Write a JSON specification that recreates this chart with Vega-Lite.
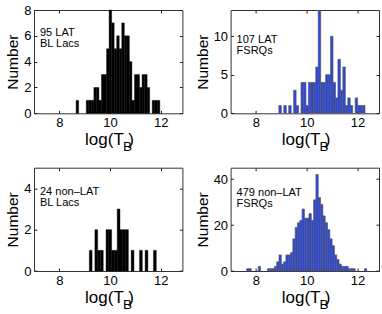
{
  "$schema": "https://vega.github.io/schema/vega-lite/v6.json",
  "background": "white",
  "padding": {"left": 5, "top": 3, "right": 0, "bottom": 0},
  "config": {
    "font": "Liberation Sans",
    "view": {"stroke": "#333", "strokeWidth": 1},
    "axis": {"grid": false, "domain": false, "tickColor": "#222", "tickSize": -3, "labelFontSize": 13, "labelColor": "#000", "labelPadding": 6, "titleFontSize": 16, "titleColor": "#000", "titleFontWeight": "normal", "labelFont": "Liberation Sans", "titleFont": "Liberation Sans"},
    "axisY": {"titleFontSize": 15.5, "titlePadding": 3},
    "title": {"fontSize": 11, "fontWeight": "normal", "font": "Liberation Sans", "color": "#000", "anchor": "start", "frame": "group", "orient": "top", "baseline": "alphabetic", "lineHeight": 11, "dx": 6}
  },
  "data": {"values": [
    {"p":"a","x0":8.66,"x1":8.76,"n":1},
    {"p":"a","x0":9.06,"x1":9.16,"n":1},
    {"p":"a","x0":9.16,"x1":9.26,"n":1},
    {"p":"a","x0":9.26,"x1":9.36,"n":1},
    {"p":"a","x0":9.36,"x1":9.46,"n":2},
    {"p":"a","x0":9.46,"x1":9.56,"n":2},
    {"p":"a","x0":9.56,"x1":9.66,"n":1},
    {"p":"a","x0":9.66,"x1":9.76,"n":3},
    {"p":"a","x0":9.76,"x1":9.86,"n":3},
    {"p":"a","x0":9.86,"x1":9.96,"n":5},
    {"p":"a","x0":9.96,"x1":10.06,"n":8},
    {"p":"a","x0":10.06,"x1":10.16,"n":7},
    {"p":"a","x0":10.16,"x1":10.26,"n":5},
    {"p":"a","x0":10.26,"x1":10.36,"n":6},
    {"p":"a","x0":10.36,"x1":10.46,"n":5},
    {"p":"a","x0":10.46,"x1":10.56,"n":7},
    {"p":"a","x0":10.56,"x1":10.66,"n":6},
    {"p":"a","x0":10.66,"x1":10.76,"n":6},
    {"p":"a","x0":10.76,"x1":10.86,"n":4},
    {"p":"a","x0":10.86,"x1":10.96,"n":1},
    {"p":"a","x0":10.96,"x1":11.06,"n":3},
    {"p":"a","x0":11.06,"x1":11.16,"n":3},
    {"p":"a","x0":11.16,"x1":11.26,"n":2},
    {"p":"a","x0":11.26,"x1":11.36,"n":3},
    {"p":"a","x0":11.36,"x1":11.46,"n":3},
    {"p":"a","x0":11.46,"x1":11.56,"n":2},
    {"p":"a","x0":11.66,"x1":11.76,"n":1},
    {"p":"a","x0":11.76,"x1":11.86,"n":1},
    {"p":"a","x0":11.86,"x1":11.96,"n":1},

    {"p":"b","x0":8.903,"x1":9.0,"n":1},
    {"p":"b","x0":9.097,"x1":9.194,"n":1},
    {"p":"b","x0":9.291,"x1":9.388,"n":1},
    {"p":"b","x0":9.485,"x1":9.582,"n":3},
    {"p":"b","x0":9.582,"x1":9.679,"n":1},
    {"p":"b","x0":9.776,"x1":9.873,"n":4},
    {"p":"b","x0":9.873,"x1":9.97,"n":4},
    {"p":"b","x0":9.97,"x1":10.067,"n":1},
    {"p":"b","x0":10.067,"x1":10.164,"n":4},
    {"p":"b","x0":10.164,"x1":10.261,"n":4},
    {"p":"b","x0":10.261,"x1":10.358,"n":4},
    {"p":"b","x0":10.358,"x1":10.455,"n":6},
    {"p":"b","x0":10.455,"x1":10.552,"n":14},
    {"p":"b","x0":10.552,"x1":10.649,"n":4},
    {"p":"b","x0":10.649,"x1":10.746,"n":4},
    {"p":"b","x0":10.746,"x1":10.843,"n":5},
    {"p":"b","x0":10.843,"x1":10.94,"n":5},
    {"p":"b","x0":10.94,"x1":11.037,"n":10},
    {"p":"b","x0":11.037,"x1":11.134,"n":4},
    {"p":"b","x0":11.134,"x1":11.231,"n":2},
    {"p":"b","x0":11.231,"x1":11.328,"n":7},
    {"p":"b","x0":11.328,"x1":11.425,"n":3},
    {"p":"b","x0":11.425,"x1":11.522,"n":6},
    {"p":"b","x0":11.522,"x1":11.619,"n":1},
    {"p":"b","x0":11.619,"x1":11.716,"n":2},
    {"p":"b","x0":11.716,"x1":11.813,"n":1},
    {"p":"b","x0":11.91,"x1":12.007,"n":2},
    {"p":"b","x0":12.007,"x1":12.104,"n":1},
    {"p":"b","x0":12.104,"x1":12.201,"n":1},
    {"p":"b","x0":12.201,"x1":12.298,"n":1},

    {"p":"c","x0":9.18,"x1":9.29,"n":1},
    {"p":"c","x0":9.40,"x1":9.51,"n":2},
    {"p":"c","x0":9.51,"x1":9.62,"n":1},
    {"p":"c","x0":9.62,"x1":9.73,"n":1},
    {"p":"c","x0":9.84,"x1":9.95,"n":2},
    {"p":"c","x0":9.95,"x1":10.06,"n":2},
    {"p":"c","x0":10.06,"x1":10.17,"n":1},
    {"p":"c","x0":10.17,"x1":10.28,"n":1},
    {"p":"c","x0":10.28,"x1":10.39,"n":3},
    {"p":"c","x0":10.39,"x1":10.50,"n":2},
    {"p":"c","x0":10.50,"x1":10.61,"n":2},
    {"p":"c","x0":10.61,"x1":10.72,"n":2},
    {"p":"c","x0":10.83,"x1":10.94,"n":1},
    {"p":"c","x0":11.16,"x1":11.27,"n":1},
    {"p":"c","x0":11.38,"x1":11.49,"n":1},
    {"p":"c","x0":11.71,"x1":11.82,"n":1},

    {"p":"d","x0":7.634,"x1":7.725,"n":1},
    {"p":"d","x0":7.725,"x1":7.816,"n":1},
    {"p":"d","x0":8.089,"x1":8.18,"n":2},
    {"p":"d","x0":8.453,"x1":8.544,"n":1},
    {"p":"d","x0":8.544,"x1":8.635,"n":1},
    {"p":"d","x0":8.635,"x1":8.726,"n":1},
    {"p":"d","x0":8.726,"x1":8.817,"n":2},
    {"p":"d","x0":8.817,"x1":8.908,"n":4},
    {"p":"d","x0":8.908,"x1":8.999,"n":7},
    {"p":"d","x0":8.999,"x1":9.09,"n":3},
    {"p":"d","x0":9.09,"x1":9.181,"n":4},
    {"p":"d","x0":9.181,"x1":9.272,"n":7},
    {"p":"d","x0":9.272,"x1":9.363,"n":7},
    {"p":"d","x0":9.363,"x1":9.454,"n":8},
    {"p":"d","x0":9.454,"x1":9.545,"n":14},
    {"p":"d","x0":9.545,"x1":9.636,"n":19},
    {"p":"d","x0":9.636,"x1":9.727,"n":21},
    {"p":"d","x0":9.727,"x1":9.818,"n":22},
    {"p":"d","x0":9.818,"x1":9.909,"n":27},
    {"p":"d","x0":9.909,"x1":10.0,"n":23},
    {"p":"d","x0":10.0,"x1":10.091,"n":23},
    {"p":"d","x0":10.091,"x1":10.182,"n":25},
    {"p":"d","x0":10.182,"x1":10.273,"n":22},
    {"p":"d","x0":10.273,"x1":10.364,"n":31},
    {"p":"d","x0":10.364,"x1":10.455,"n":42},
    {"p":"d","x0":10.455,"x1":10.546,"n":32},
    {"p":"d","x0":10.546,"x1":10.637,"n":29},
    {"p":"d","x0":10.637,"x1":10.728,"n":24},
    {"p":"d","x0":10.728,"x1":10.819,"n":21},
    {"p":"d","x0":10.819,"x1":10.91,"n":18},
    {"p":"d","x0":10.91,"x1":11.001,"n":14},
    {"p":"d","x0":11.001,"x1":11.092,"n":11},
    {"p":"d","x0":11.092,"x1":11.183,"n":7},
    {"p":"d","x0":11.183,"x1":11.274,"n":5},
    {"p":"d","x0":11.274,"x1":11.365,"n":3},
    {"p":"d","x0":11.365,"x1":11.456,"n":2},
    {"p":"d","x0":11.456,"x1":11.547,"n":2},
    {"p":"d","x0":11.547,"x1":11.638,"n":2},
    {"p":"d","x0":11.638,"x1":11.729,"n":1},
    {"p":"d","x0":11.729,"x1":11.82,"n":1},
    {"p":"d","x0":11.82,"x1":11.911,"n":1},
    {"p":"d","x0":12.275,"x1":12.366,"n":1}
  ]},
  "columns": 2,
  "spacing": {"row": 53.7, "column": 47.6},
  "bounds": "flush",
  "concat": [
    {
      "width": 148.4, "height": 103.3,
      "title": {"text": ["95 LAT", "BL Lacs"], "offset": -34.5, "dy": 10},
      "transform": [{"filter": "datum.p == 'a'"}],
      "resolve": {"axis": {"x": "independent", "y": "independent"}},
      "layer": [
        {
          "mark": {"type": "bar", "color": "#000", "stroke": "#000", "strokeWidth": 0.4},
          "encoding": {
            "x": {"field": "x0", "type": "quantitative", "scale": {"domain": [7, 12.85], "nice": false, "zero": false}, "axis": {"values": [8, 10, 12], "title": "log(T  )", "titleX": 75, "titleY": 31, "titleAlign": "center", "titleBaseline": "alphabetic", "titleFontSize": 17}},
            "x2": {"field": "x1"},
            "y": {"field": "n", "type": "quantitative", "scale": {"domain": [0, 8], "nice": false}, "axis": {"values": [0, 2, 4, 6, 8], "title": "Number"}},
            "y2": {"datum": 0}
          }
        },
        {
          "transform": [{"filter": "false"}],
          "mark": "point",
          "encoding": {
            "x": {"field": "x0", "type": "quantitative", "axis": {"orient": "bottom", "title": "B", "labels": false, "ticks": false, "domain": false, "titleX": 88.5, "titleY": 37, "titleAlign": "left", "titleBaseline": "alphabetic", "titleFontSize": 13.5}}
          }
        },
        {
          "transform": [{"filter": "false"}],
          "mark": "point",
          "encoding": {
            "x": {"field": "x0", "type": "quantitative", "axis": {"orient": "top", "values": [8, 10, 12], "labels": false, "title": null}},
            "y": {"field": "n", "type": "quantitative", "axis": {"orient": "right", "values": [0, 2, 4, 6, 8], "labels": false, "title": null}}
          }
        }
      ]
    },
    {
      "width": 148.4, "height": 103.3,
      "title": {"text": ["107 LAT", "FSRQs"], "offset": -36.5, "dy": 9.5},
      "transform": [{"filter": "datum.p == 'b'"}],
      "resolve": {"axis": {"x": "independent", "y": "independent"}},
      "layer": [
        {
          "mark": {"type": "bar", "color": "#2846eb", "stroke": "#5a5a5a", "strokeWidth": 0.7, "clip": true},
          "encoding": {
            "x": {"field": "x0", "type": "quantitative", "scale": {"domain": [7, 12.85], "nice": false, "zero": false}, "axis": {"values": [8, 10, 12], "title": "log(T  )", "titleX": 75, "titleY": 31, "titleAlign": "center", "titleBaseline": "alphabetic", "titleFontSize": 17}},
            "x2": {"field": "x1"},
            "y": {"field": "n", "type": "quantitative", "scale": {"domain": [0, 13.4], "nice": false}, "axis": {"values": [0, 5, 10], "title": "Number"}},
            "y2": {"datum": 0}
          }
        },
        {
          "transform": [{"filter": "false"}],
          "mark": "point",
          "encoding": {
            "x": {"field": "x0", "type": "quantitative", "axis": {"orient": "bottom", "title": "B", "labels": false, "ticks": false, "domain": false, "titleX": 88.5, "titleY": 37, "titleAlign": "left", "titleBaseline": "alphabetic", "titleFontSize": 13.5}}
          }
        },
        {
          "transform": [{"filter": "false"}],
          "mark": "point",
          "encoding": {
            "x": {"field": "x0", "type": "quantitative", "axis": {"orient": "top", "values": [8, 10, 12], "labels": false, "title": null}},
            "y": {"field": "n", "type": "quantitative", "axis": {"orient": "right", "values": [0, 5, 10], "labels": false, "title": null}}
          }
        }
      ]
    },
    {
      "width": 148.4, "height": 103.3,
      "title": {"text": ["24 non–LAT", "BL Lacs"], "offset": -38, "dy": 3},
      "transform": [{"filter": "datum.p == 'c'"}],
      "resolve": {"axis": {"x": "independent", "y": "independent"}},
      "layer": [
        {
          "mark": {"type": "bar", "color": "#000", "stroke": "#000", "strokeWidth": 0.4},
          "encoding": {
            "x": {"field": "x0", "type": "quantitative", "scale": {"domain": [7, 12.85], "nice": false, "zero": false}, "axis": {"values": [8, 10, 12], "title": "log(T  )", "titleX": 75, "titleY": 31, "titleAlign": "center", "titleBaseline": "alphabetic", "titleFontSize": 17}},
            "x2": {"field": "x1"},
            "y": {"field": "n", "type": "quantitative", "scale": {"domain": [0, 5], "nice": false}, "axis": {"values": [0, 2, 4], "title": "Number"}},
            "y2": {"datum": 0}
          }
        },
        {
          "transform": [{"filter": "false"}],
          "mark": "point",
          "encoding": {
            "x": {"field": "x0", "type": "quantitative", "axis": {"orient": "bottom", "title": "B", "labels": false, "ticks": false, "domain": false, "titleX": 88.5, "titleY": 37, "titleAlign": "left", "titleBaseline": "alphabetic", "titleFontSize": 13.5}}
          }
        },
        {
          "transform": [{"filter": "false"}],
          "mark": "point",
          "encoding": {
            "x": {"field": "x0", "type": "quantitative", "axis": {"orient": "top", "values": [8, 10, 12], "labels": false, "title": null}},
            "y": {"field": "n", "type": "quantitative", "axis": {"orient": "right", "values": [0, 2, 4], "labels": false, "title": null}}
          }
        }
      ]
    },
    {
      "width": 148.4, "height": 103.3,
      "title": {"text": ["479 non–LAT", "FSRQs"], "offset": -39, "dy": 3},
      "transform": [{"filter": "datum.p == 'd'"}],
      "resolve": {"axis": {"x": "independent", "y": "independent"}},
      "layer": [
        {
          "mark": {"type": "bar", "color": "#2846eb", "stroke": "#5a5a5a", "strokeWidth": 0.7},
          "encoding": {
            "x": {"field": "x0", "type": "quantitative", "scale": {"domain": [7, 12.85], "nice": false, "zero": false}, "axis": {"values": [8, 10, 12], "title": "log(T  )", "titleX": 75, "titleY": 31, "titleAlign": "center", "titleBaseline": "alphabetic", "titleFontSize": 17}},
            "x2": {"field": "x1"},
            "y": {"field": "n", "type": "quantitative", "scale": {"domain": [0, 45], "nice": false}, "axis": {"values": [0, 20, 40], "title": "Number"}},
            "y2": {"datum": 0}
          }
        },
        {
          "transform": [{"filter": "false"}],
          "mark": "point",
          "encoding": {
            "x": {"field": "x0", "type": "quantitative", "axis": {"orient": "bottom", "title": "B", "labels": false, "ticks": false, "domain": false, "titleX": 88.5, "titleY": 37, "titleAlign": "left", "titleBaseline": "alphabetic", "titleFontSize": 13.5}}
          }
        },
        {
          "transform": [{"filter": "false"}],
          "mark": "point",
          "encoding": {
            "x": {"field": "x0", "type": "quantitative", "axis": {"orient": "top", "values": [8, 10, 12], "labels": false, "title": null}},
            "y": {"field": "n", "type": "quantitative", "axis": {"orient": "right", "values": [0, 20, 40], "labels": false, "title": null}}
          }
        }
      ]
    }
  ]
}
